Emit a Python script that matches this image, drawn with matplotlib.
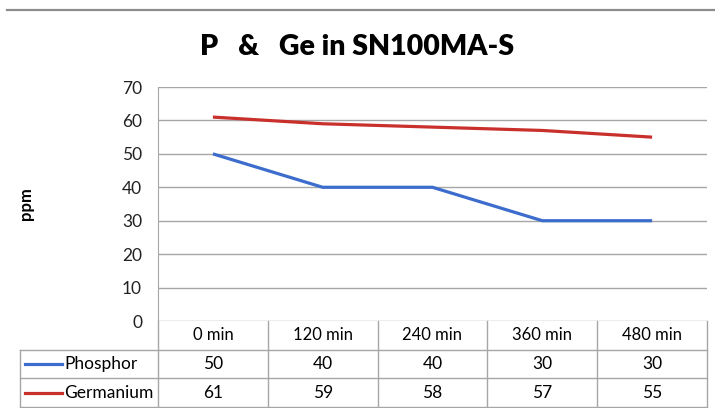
import matplotlib
import matplotlib.pyplot as plt
from matplotlib.lines import Line2D

matplotlib.use("Agg")

categories = ["0 min", "120 min", "240 min", "360 min", "480 min"]
series_names = ["Phosphor", "Germanium"]
phosphor = [50, 40, 40, 30, 30]
germanium = [61, 59, 58, 57, 55]
y_ticks = [0, 10, 20, 30, 40, 50, 60, 70]

colors = ["#3D6DCC", "#C9302C"]
grid_color = "#A6A6A6"
plt.rcParams["font.family"] = ["Lato", "DejaVu Sans"]

W, H = 715, 408
fig = plt.figure(figsize=(W / 100, H / 100), dpi=100)

# plot area in pixel coordinates
left, right, top, bottom = 158, 707, 87, 321
ax = fig.add_axes([left / W, 1 - bottom / H, (right - left) / W, (bottom - top) / H])
x = list(range(len(categories)))
for vals, col in zip([phosphor, germanium], colors):
    ax.plot(x, vals, color=col, lw=2.3, solid_capstyle="butt")
ax.set_xlim(-0.5, len(categories) - 0.5)
ax.set_ylim(0, 70)
ax.set_yticks(y_ticks)
ax.set_yticklabels([str(v) for v in y_ticks], fontsize=12.5, color="#222222")
ax.tick_params(axis="y", length=0, pad=11.5)
ax.set_xticks([])
ax.grid(axis="y", color=grid_color, lw=1)
ax.set_axisbelow(True)
for s in ["top", "right", "bottom"]:
    ax.spines[s].set_visible(False)
ax.spines["left"].set_color(grid_color)
ax.set_ylabel("ppm", fontsize=12, fontweight="bold")
ax.yaxis.set_label_coords(-0.226, 0.5)

fig.text(357 / W, 1 - 47 / H, "P   &   Ge in SN100MA-S", ha="center", va="center",
         fontsize=20.5, fontweight="heavy")

# top separator line
fig.add_artist(Line2D([7 / W, 1], [1 - 10 / H, 1 - 10 / H], color="#8C8C8C", lw=1.6))

# data table below the plot
t_left, t_bottom = 20, 407
unit = (right - left) / len(categories)
x0 = -0.5 - (left - t_left) / unit
tax = fig.add_axes([t_left / W, 1 - t_bottom / H, (right - t_left) / W, (t_bottom - bottom) / H])
tax.set_xlim(x0, len(categories) - 0.5)
tax.set_ylim(0, 3)
tax.axis("off")
xe = len(categories) - 0.5
for b in [i - 0.5 for i in range(len(categories) + 1)]:
    tax.plot([b, b], [0, 3], color=grid_color, lw=1, clip_on=False)
tax.plot([x0, x0], [0, 2], color=grid_color, lw=1, clip_on=False)
for yy in [0, 1, 2]:
    tax.plot([x0, xe], [yy, yy], color=grid_color, lw=1, clip_on=False)
for i, c in enumerate(categories):
    tax.text(i, 2.5, c, ha="center", va="center", fontsize=12)
for r, (name, vals, col) in enumerate(zip(series_names, [phosphor, germanium], colors)):
    yc = 1.5 - r
    tax.plot([x0 + 5 / unit, x0 + 42 / unit], [yc, yc], color=col, lw=2.3, clip_on=False)
    tax.text(x0 + 44 / unit, yc, name, ha="left", va="center", fontsize=12.5)
    for i, v in enumerate(vals):
        tax.text(i, yc, str(v), ha="center", va="center", fontsize=12.5)

fig.savefig("out.png", dpi=100)
plt.close(fig)
